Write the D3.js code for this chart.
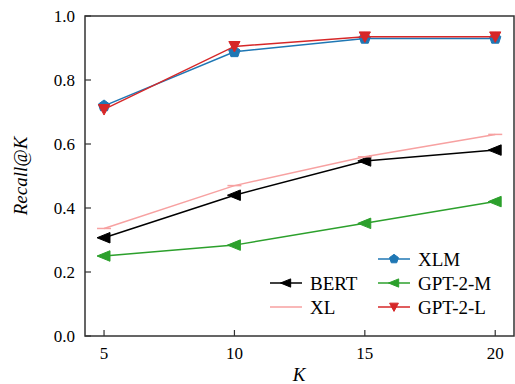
<!DOCTYPE html>
<html><head><meta charset="utf-8">
<script src="https://cdn.jsdelivr.net/npm/d3@7"></script>
</head><body style="margin:0;background:#fff"><svg id="c" width="515" height="384"></svg>
<script>
const kValues = [5, 10, 15, 20];
const bert = [0.307, 0.44, 0.547, 0.581];
const xl = [0.336, 0.47, 0.56, 0.63];
const xlm = [0.719, 0.888, 0.93, 0.93];
const gpt2m = [0.25, 0.284, 0.352, 0.42];
const gpt2l = [0.708, 0.905, 0.935, 0.935];
const yTicks = [0.0, 0.2, 0.4, 0.6, 0.8, 1.0];
const xTicks = [5, 10, 15, 20];

const series = [
  {name: "BERT", values: bert, color: "#000000", marker: "left"},
  {name: "XL", values: xl, color: "#f7a1a1", marker: "hline"},
  {name: "XLM", values: xlm, color: "#1f77b4", marker: "pentagon"},
  {name: "GPT-2-M", values: gpt2m, color: "#2ca02c", marker: "left"},
  {name: "GPT-2-L", values: gpt2l, color: "#d62728", marker: "down"}
];

const svg = d3.select("#c");
const L = 85, R = 514, T = 16, B = 336;
const x = d3.scaleLinear().domain([4.27, 20.72]).range([L, R]);
const y = d3.scaleLinear().domain([0, 1]).range([B, T]);

function markerPath(type, s) {
  if (type === "left") return `M${-s},0L${s*0.85},${-s*0.75}L${s*0.85},${s*0.75}Z`;
  if (type === "down") return `M${-s*0.8},${-s*0.7}L${s*0.8},${-s*0.7}L0,${s*0.8}Z`;
  if (type === "pentagon") {
    let p = [];
    for (let i = 0; i < 5; i++) { const a = -Math.PI/2 + i*2*Math.PI/5; p.push([s*0.85*Math.cos(a), s*0.85*Math.sin(a)]); }
    return "M" + p.map(d => d.join(",")).join("L") + "Z";
  }
  if (type === "hline") return `M${-s},0L${s},0`;
}

const line = d3.line().x((d,i) => x(kValues[i])).y(d => y(d));
const g = svg.append("g");
series.forEach(s => {
  g.append("path").attr("d", line(s.values)).attr("fill", "none")
    .attr("stroke", s.color).attr("stroke-width", 1.5);
  s.values.forEach((v, i) => {
    const m = g.append("path").attr("d", markerPath(s.marker, 7))
      .attr("transform", `translate(${x(kValues[i])},${y(v)})`);
    if (s.marker === "hline") m.attr("fill", "none").attr("stroke", s.color).attr("stroke-width", 1.5);
    else m.attr("fill", s.color).attr("stroke", s.color).attr("stroke-width", 1);
  });
});

svg.append("rect").attr("x", L).attr("y", T).attr("width", R - L).attr("height", B - T)
  .attr("fill", "none").attr("stroke", "#333").attr("stroke-width", 1.5);

// ticks drawn manually from scales
svg.append("g").selectAll("line").data(xTicks).join("line")
  .attr("x1", d => x(d)).attr("x2", d => x(d)).attr("y1", B).attr("y2", B - 6)
  .attr("stroke", "#333").attr("stroke-width", 1.2);
svg.append("g").selectAll("line").data(yTicks).join("line")
  .attr("x1", L).attr("x2", L + 6).attr("y1", d => y(d)).attr("y2", d => y(d))
  .attr("stroke", "#333").attr("stroke-width", 1.2);
svg.append("g").selectAll("text").data(xTicks).join("text")
  .attr("x", d => x(d)).attr("y", B + 23).attr("text-anchor", "middle")
  .attr("font-family", "Liberation Serif").attr("font-size", 17).text(d => d3.format("d")(d));
svg.append("g").selectAll("text").data(yTicks).join("text")
  .attr("x", L - 10).attr("y", d => y(d) + 6).attr("text-anchor", "end")
  .attr("font-family", "Liberation Serif").attr("font-size", 17).text(d => d3.format(".1f")(d));

svg.append("text").attr("x", 299).attr("y", 381).attr("text-anchor", "middle")
  .attr("font-family", "Liberation Serif").attr("font-size", 19).attr("font-style", "italic").text("K");
svg.append("text").attr("transform", "translate(27,176) rotate(-90)").attr("text-anchor", "middle")
  .attr("font-family", "Liberation Serif").attr("font-size", 19).attr("font-style", "italic").text("Recall@K");

const legendItems = [
  {s: series[0], x: 270, y: 283},
  {s: series[1], x: 270, y: 307},
  {s: series[2], x: 378, y: 259},
  {s: series[3], x: 378, y: 283},
  {s: series[4], x: 378, y: 307}
];
legendItems.forEach(it => {
  const lg = svg.append("g").attr("transform", `translate(${it.x},${it.y})`);
  lg.append("line").attr("x1", 0).attr("x2", 32).attr("stroke", it.s.color).attr("stroke-width", 1.5);
  if (it.s.marker !== "hline") {
    lg.append("path").attr("d", markerPath(it.s.marker, 5.5)).attr("transform", "translate(16,0)")
      .attr("fill", it.s.color).attr("stroke", it.s.color);
  }
  lg.append("text").attr("x", 40).attr("y", 7).attr("font-family", "Liberation Serif").attr("font-size", 19).text(it.s.name);
});
</script></body></html>
